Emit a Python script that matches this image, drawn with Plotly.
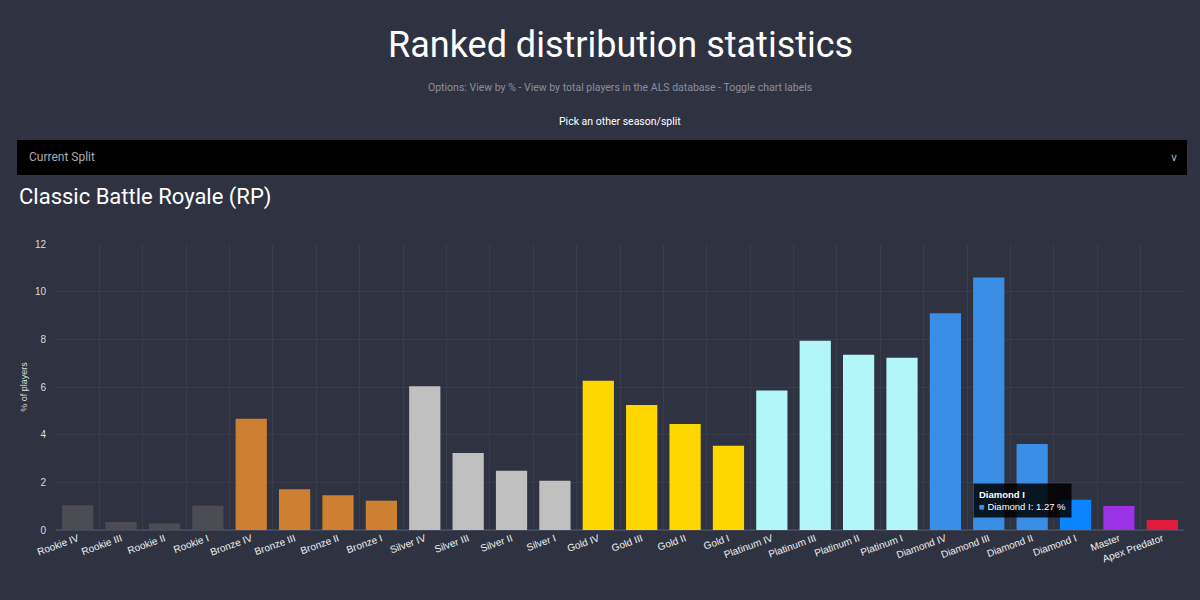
import plotly.graph_objects as go

# Ranked tiers and share of players (%) - current split
tiers = [
    'Rookie IV', 'Rookie III', 'Rookie II', 'Rookie I',
    'Bronze IV', 'Bronze III', 'Bronze II', 'Bronze I',
    'Silver IV', 'Silver III', 'Silver II', 'Silver I',
    'Gold IV', 'Gold III', 'Gold II', 'Gold I',
    'Platinum IV', 'Platinum III', 'Platinum II', 'Platinum I',
    'Diamond IV', 'Diamond III', 'Diamond II', 'Diamond I',
    'Master', 'Apex Predator',
]
pct_players = [
    1.04, 0.34, 0.27, 1.02,
    4.67, 1.71, 1.46, 1.23,
    6.03, 3.23, 2.49, 2.07,
    6.26, 5.25, 4.45, 3.53,
    5.85, 7.94, 7.35, 7.23,
    9.09, 10.59, 3.61, 1.27,
    1.01, 0.42,
]
tier_colors = (
    ['#4b4c54'] * 4 + ['#cd7f32'] * 4 + ['#c0c0c0'] * 4 + ['#ffd700'] * 4
    + ['#b3f6fa'] * 4 + ['#3a8ee6'] * 3 + ['#0a84ff'] + ['#9b32e6', '#e21b3c']
)

BG = '#2f3241'
GRID = '#393c4b'
PLOT_W = 1128  # plot area width in px
PLOT_H = 286   # plot area height in px

fig = go.Figure(go.Bar(
    x=tiers,
    y=pct_players,
    marker=dict(color=tier_colors, line=dict(width=0)),
    hovertemplate='%{x}: %{y} %<extra></extra>',
))

fig.update_layout(
    width=1200, height=600,
    paper_bgcolor=BG, plot_bgcolor=BG,
    margin=dict(l=56, r=16, t=244, b=70),
    bargap=0.28,
    showlegend=False,
    font=dict(family='Liberation Sans, Arial', color='#e6e6e6'),
)

fig.update_xaxes(
    tickangle=-20, tickfont=dict(size=10, color='#f0f0f0'),
    showgrid=True, gridcolor=GRID, tickson='boundaries', ticks='',
    showline=False, zeroline=False,
)
fig.update_yaxes(
    range=[0, 12], dtick=2, tickfont=dict(size=10, color='#dcdcdc'),
    ticklabelstandoff=9,
    showgrid=True, gridcolor=GRID, zeroline=True, zerolinecolor='#45485a',
    title=dict(text='% of players', font=dict(size=9, color='#dcdcdc'), standoff=5),
)

header_font = 'Roboto, Noto Sans, sans-serif'


def above(px):
    # paper y for a point px pixels above the plot top
    return 1 + px / PLOT_H


# Page header texts
fig.add_annotation(text='Ranked distribution statistics', xref='paper', yref='paper',
                   x=0.5, y=above(199), yanchor='middle', showarrow=False,
                   font=dict(size=36, color='#ffffff', family=header_font))
fig.add_annotation(text='Options: View by % - View by total players in the ALS database - Toggle chart labels',
                   xref='paper', yref='paper', x=0.5, y=above(157), yanchor='middle', showarrow=False,
                   font=dict(size=10.5, color='#8a8fa0', family=header_font))
fig.add_annotation(text='Pick an other season/split', xref='paper', yref='paper',
                   x=0.5, y=above(122), yanchor='middle', showarrow=False,
                   font=dict(size=10.5, color='#ffffff', family=header_font))

# Season selector box
fig.add_shape(type='rect', xref='paper', yref='paper',
              x0=-39 / PLOT_W, x1=1131 / PLOT_W, y0=above(69), y1=above(104),
              line=dict(width=0), fillcolor='#000000', layer='below')
fig.add_annotation(text='Current Split', xref='paper', yref='paper',
                   x=-29 / PLOT_W, y=above(87), xanchor='left', yanchor='middle', showarrow=False,
                   font=dict(size=12, color='#a9abb3', family=header_font))
fig.add_annotation(text='\u2228', xref='paper', yref='paper',
                   x=1124 / PLOT_W, y=above(87), xanchor='right', yanchor='middle', showarrow=False,
                   font=dict(size=11, color='#a9abb3', family=header_font))

fig.add_annotation(text='Classic Battle Royale (RP)', xref='paper', yref='paper',
                   x=-39 / PLOT_W, y=above(47), xanchor='left', yanchor='middle', showarrow=False,
                   font=dict(size=22, color='#ffffff', family=header_font))

# Hover tooltip shown in the reference
fig.add_annotation(text='<b>Diamond I</b><br><span style="color:#3a8ee6">\u25a0</span> Diamond I: 1.27 %',
                   x='Diamond I', y=1.23, xanchor='right', yanchor='middle', xshift=-4,
                   showarrow=False, align='left', bgcolor='rgba(0,0,0,0.85)',
                   borderpad=5, font=dict(size=9.5, color='#ffffff'))

fig.write_html('out.html', config={'displayModeBar': False},
               post_script="document.body.style.margin='0';"
                           "document.body.style.background='#2f3241';")
